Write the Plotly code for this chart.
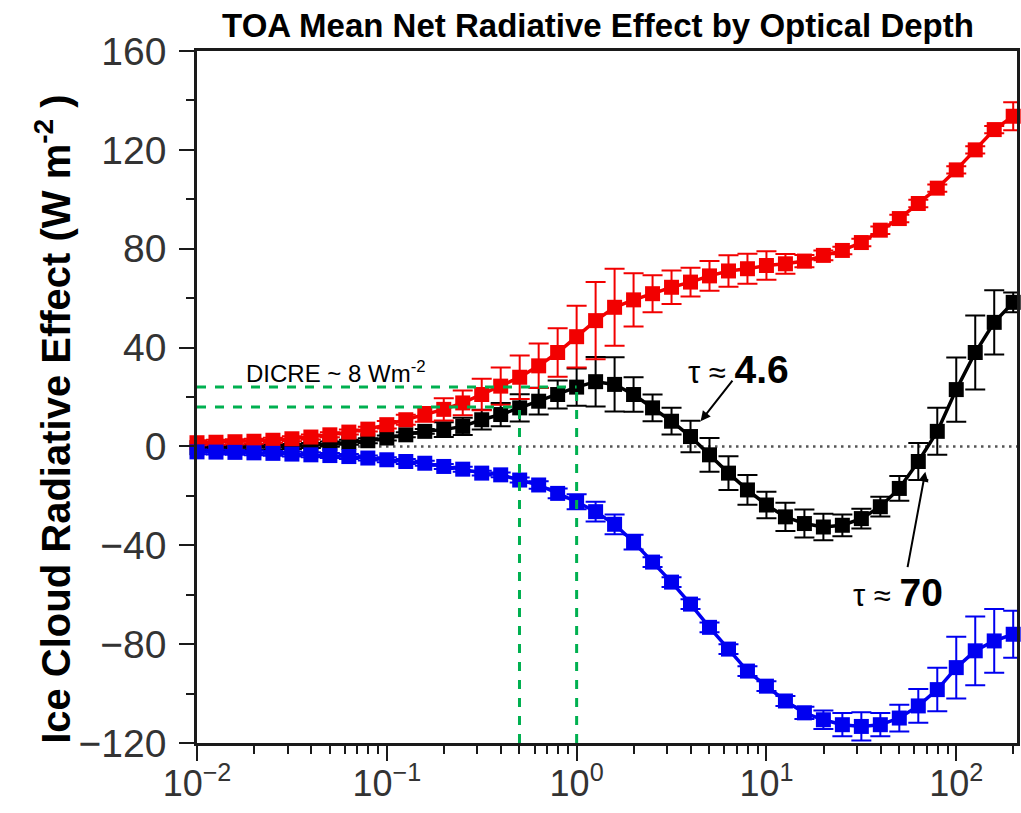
import numpy as np
import plotly.graph_objects as go

# ---------------- data ----------------
log_tau = [round(-2 + 0.1 * i, 1) for i in range(44)]
tau = [10 ** v for v in log_tau]

lw_cre = [1.5, 1.7, 1.9, 2.1, 2.5, 3.1, 3.8, 4.7, 5.8, 7.0, 8.8, 10.8, 13.0, 15.0,
          17.6, 21.0, 24.4, 28.0, 32.6, 38.0, 44.4, 50.9, 56.3, 59.3, 61.8, 64.4,
          66.5, 69.0, 71.0, 71.9, 73.2, 73.9, 75.0, 77.3, 79.3, 82.5, 87.5, 92.2,
          98.3, 104.5, 111.9, 120.0, 128.2, 133.6]
lw_err = [1, 1, 1, 1, 1, 1, 1, 1, 1, 1, 1.5, 2, 3, 4.5, 5, 6.4, 7.5, 8.8, 9, 9.8,
          12.5, 15.6, 15.6, 10.8, 7.5, 6.8, 5.8, 6, 6.4, 6.1, 5.8, 4, 2.5, 2,
          1.5, 1.5, 1.5, 1.5, 1.5, 1.5, 1.5, 1.5, 1.5, 5.7]

sw_cre = [-2.2, -2.3, -2.4, -2.6, -2.8, -3.1, -3.4, -3.7, -4.1, -4.7, -5.4, -6.1,
          -6.8, -8.1, -9.2, -10.8, -11.5, -13.6, -15.6, -19.0, -22.4, -26.4, -31.5,
          -38.7, -46.8, -54.9, -63.8, -73.2, -82.0, -90.9, -97.0, -103.0, -107.8,
          -110.6, -112.6, -113.3, -112.6, -109.9, -105.0, -98.4, -89.5, -82.7,
          -78.7, -76.0]
sw_err = [1] * 18 + [1.5, 2, 3, 4, 4, 3, 2, 2, 2, 2, 2, 2, 2, 2, 2.5, 3.7, 4.7,
                     5.7, 4.7, 5.4, 6.8, 8.8, 12.5, 13.9, 12.9, 9.5]

net_cre = [-0.5, -0.4, -0.3, -0.3, -0.2, 0.0, 0.4, 1.0, 1.7, 2.3, 3.4, 4.7, 6.1,
           6.8, 8.1, 10.8, 12.9, 15.6, 18.3, 21.0, 24.0, 26.2, 25.1, 21.0, 15.6,
           10.2, 4.0, -3.4, -10.8, -17.6, -23.7, -28.5, -31.2, -32.6, -31.9, -29.2,
           -24.4, -17.0, -6.1, 6.1, 23.0, 38.0, 50.2, 58.3]
net_err = [1] * 13 + [3, 3.5, 4, 4.7, 5.5, 5.4, 5.7, 7.5, 10, 11, 7, 5.4, 5.4,
                      6.4, 6.8, 6.8, 6, 5.4, 5.7, 5.7, 5.4, 4.4, 4, 4, 5, 7.5,
                      9.5, 13, 15, 13, 4]

x_tickvals = [0.01, 0.1, 1, 10, 100]
x_ticktext = ["10<sup>\u22122</sup>", "10<sup>\u22121</sup>", "10<sup>0</sup>",
              "10<sup>1</sup>", "10<sup>2</sup>"]
y_tickvals = [-120, -80, -40, 0, 40, 80, 120, 160]

# DICRE guide lines
dicre_hi, dicre_lo = 24.0, 16.0
tau_hi, tau_lo = 1.0, 0.5
# zero-crossing annotations
tau_cross1, net_cross1 = 4.5, 10.2
tau_cross2, net_cross2 = 68.7, -10.2

X_RANGE = [-2.0, 2.32]
Y_RANGE = [-120, 160]

FONT = "Liberation Sans"
GREEN = "#00b050"
AXC = "#1a1a1a"

fig = go.Figure()

def add_series(y, err, color):
    fig.add_trace(go.Scatter(
        x=tau, y=y, mode="lines+markers",
        line=dict(color=color, width=3.5),
        marker=dict(symbol="square", size=15, color=color, line=dict(width=0)),
        error_y=dict(type="data", array=err, visible=True, color=color,
                     thickness=2, width=10),
        cliponaxis=False, showlegend=False))

add_series(net_cre, net_err, "#000000")
add_series(lw_cre, lw_err, "#f20000")
add_series(sw_cre, sw_err, "#0000f0")

shapes = [
    dict(type="line", xref="paper", yref="y", x0=0, x1=1, y0=0, y1=0,
         line=dict(color="#555555", width=2.5, dash="2.5px,4.5px"), layer="below"),
    dict(type="line", xref="x", yref="y", x0=tau[0], x1=tau_hi, y0=dicre_hi, y1=dicre_hi,
         line=dict(color=GREEN, width=3, dash="dash")),
    dict(type="line", xref="x", yref="y", x0=tau[0], x1=tau_lo, y0=dicre_lo, y1=dicre_lo,
         line=dict(color=GREEN, width=3, dash="dash")),
    dict(type="line", xref="x", yref="y", x0=tau_hi, x1=tau_hi, y0=Y_RANGE[0], y1=dicre_hi,
         line=dict(color=GREEN, width=3, dash="dash")),
    dict(type="line", xref="x", yref="y", x0=tau_lo, x1=tau_lo, y0=Y_RANGE[0], y1=dicre_lo,
         line=dict(color=GREEN, width=3, dash="dash")),
]

annotations = [
    dict(x=-0.1756, y=0.467, xref="paper", yref="paper", xanchor="center", yanchor="middle",
         textangle=-90, showarrow=False,
         text="<b>Ice Cloud Radiative Effect (W m<sup>-2</sup> )</b>",
         font=dict(family=FONT, size=40, color="black")),
    dict(x=-1.753, y=30.1, xref="x", yref="y", xanchor="left", yanchor="middle",
         text="DICRE ~ 8 Wm<sup>-2</sup>", showarrow=False,
         font=dict(family=FONT, size=24, color="black")),
    dict(x=0.853, y=31.3, xref="x", yref="y", xanchor="center", yanchor="middle",
         text='\u03c4 \u2248 <b><span style="font-size:39px">4.6</span></b>', showarrow=False,
         font=dict(family=FONT, size=31, color="black")),
    dict(x=1.695, y=-59, xref="x", yref="y", xanchor="center", yanchor="middle",
         text='\u03c4 \u2248 <b><span style="font-size:39px">70</span></b>', showarrow=False,
         font=dict(family=FONT, size=31, color="black")),
    dict(x=np.log10(tau_cross1), y=net_cross1, xref="x", yref="y", text="",
         showarrow=True, arrowhead=2, arrowsize=1, arrowwidth=2, arrowcolor="black",
         ax=33, ay=-42),
    dict(x=np.log10(tau_cross2), y=net_cross2, xref="x", yref="y", text="",
         showarrow=True, arrowhead=2, arrowsize=1, arrowwidth=2, arrowcolor="black",
         ax=-18, ay=97),
]

axis_line = dict(showline=True, linecolor=AXC, linewidth=2.5)

fig.update_layout(
    width=1021, height=813,
    margin=dict(l=197, r=4, t=51, b=70, autoexpand=False),
    paper_bgcolor="white", plot_bgcolor="white",
    title=dict(text="<b>TOA Mean Net Radiative Effect by Optical Depth</b>",
               x=598 / 1021, xref="container", xanchor="center",
               y=1 - 25 / 813, yref="container", yanchor="middle",
               font=dict(family=FONT, size=33, color="black")),
    xaxis=dict(type="log", range=X_RANGE, tickvals=x_tickvals, ticktext=x_ticktext,
               automargin=False,
               ticks="outside", ticklen=15, tickwidth=2, tickcolor=AXC,
               minor=dict(ticks="outside", ticklen=8, tickwidth=2, tickcolor=AXC,
                          dtick="D1", showgrid=False),
               showgrid=False, zeroline=False, mirror=True, **axis_line,
               tickfont=dict(family=FONT, size=36, color="#333333"),
               ticklabelstandoff=-8),
    yaxis=dict(range=Y_RANGE, tickvals=y_tickvals, automargin=False,
               ticks="outside", ticklen=15, tickwidth=2, tickcolor=AXC,
               minor=dict(ticks="outside", ticklen=8, tickwidth=2, tickcolor=AXC,
                          dtick=20, showgrid=False),
               showgrid=False, zeroline=False, mirror=True, **axis_line,
               tickfont=dict(family=FONT, size=39, color="#333333"),
               ticklabelstandoff=5),
    xaxis2=dict(type="log", range=X_RANGE, overlaying="x", side="top", anchor="y",
                automargin=False,
                tickvals=x_tickvals, ticks="inside", ticklen=15, tickwidth=2,
                tickcolor=AXC, showticklabels=False, showgrid=False,
                minor=dict(ticks="inside", ticklen=8, tickwidth=2, tickcolor=AXC,
                           dtick="D1", showgrid=False)),
    yaxis2=dict(range=Y_RANGE, overlaying="y", side="right", anchor="x",
                automargin=False,
                tickvals=y_tickvals, ticks="inside", ticklen=15, tickwidth=2,
                tickcolor=AXC, showticklabels=False, showgrid=False, zeroline=False,
                minor=dict(ticks="inside", ticklen=8, tickwidth=2, tickcolor=AXC,
                           dtick=20, showgrid=False)),
    shapes=shapes, annotations=annotations,
)

fig.write_html("out.html")
